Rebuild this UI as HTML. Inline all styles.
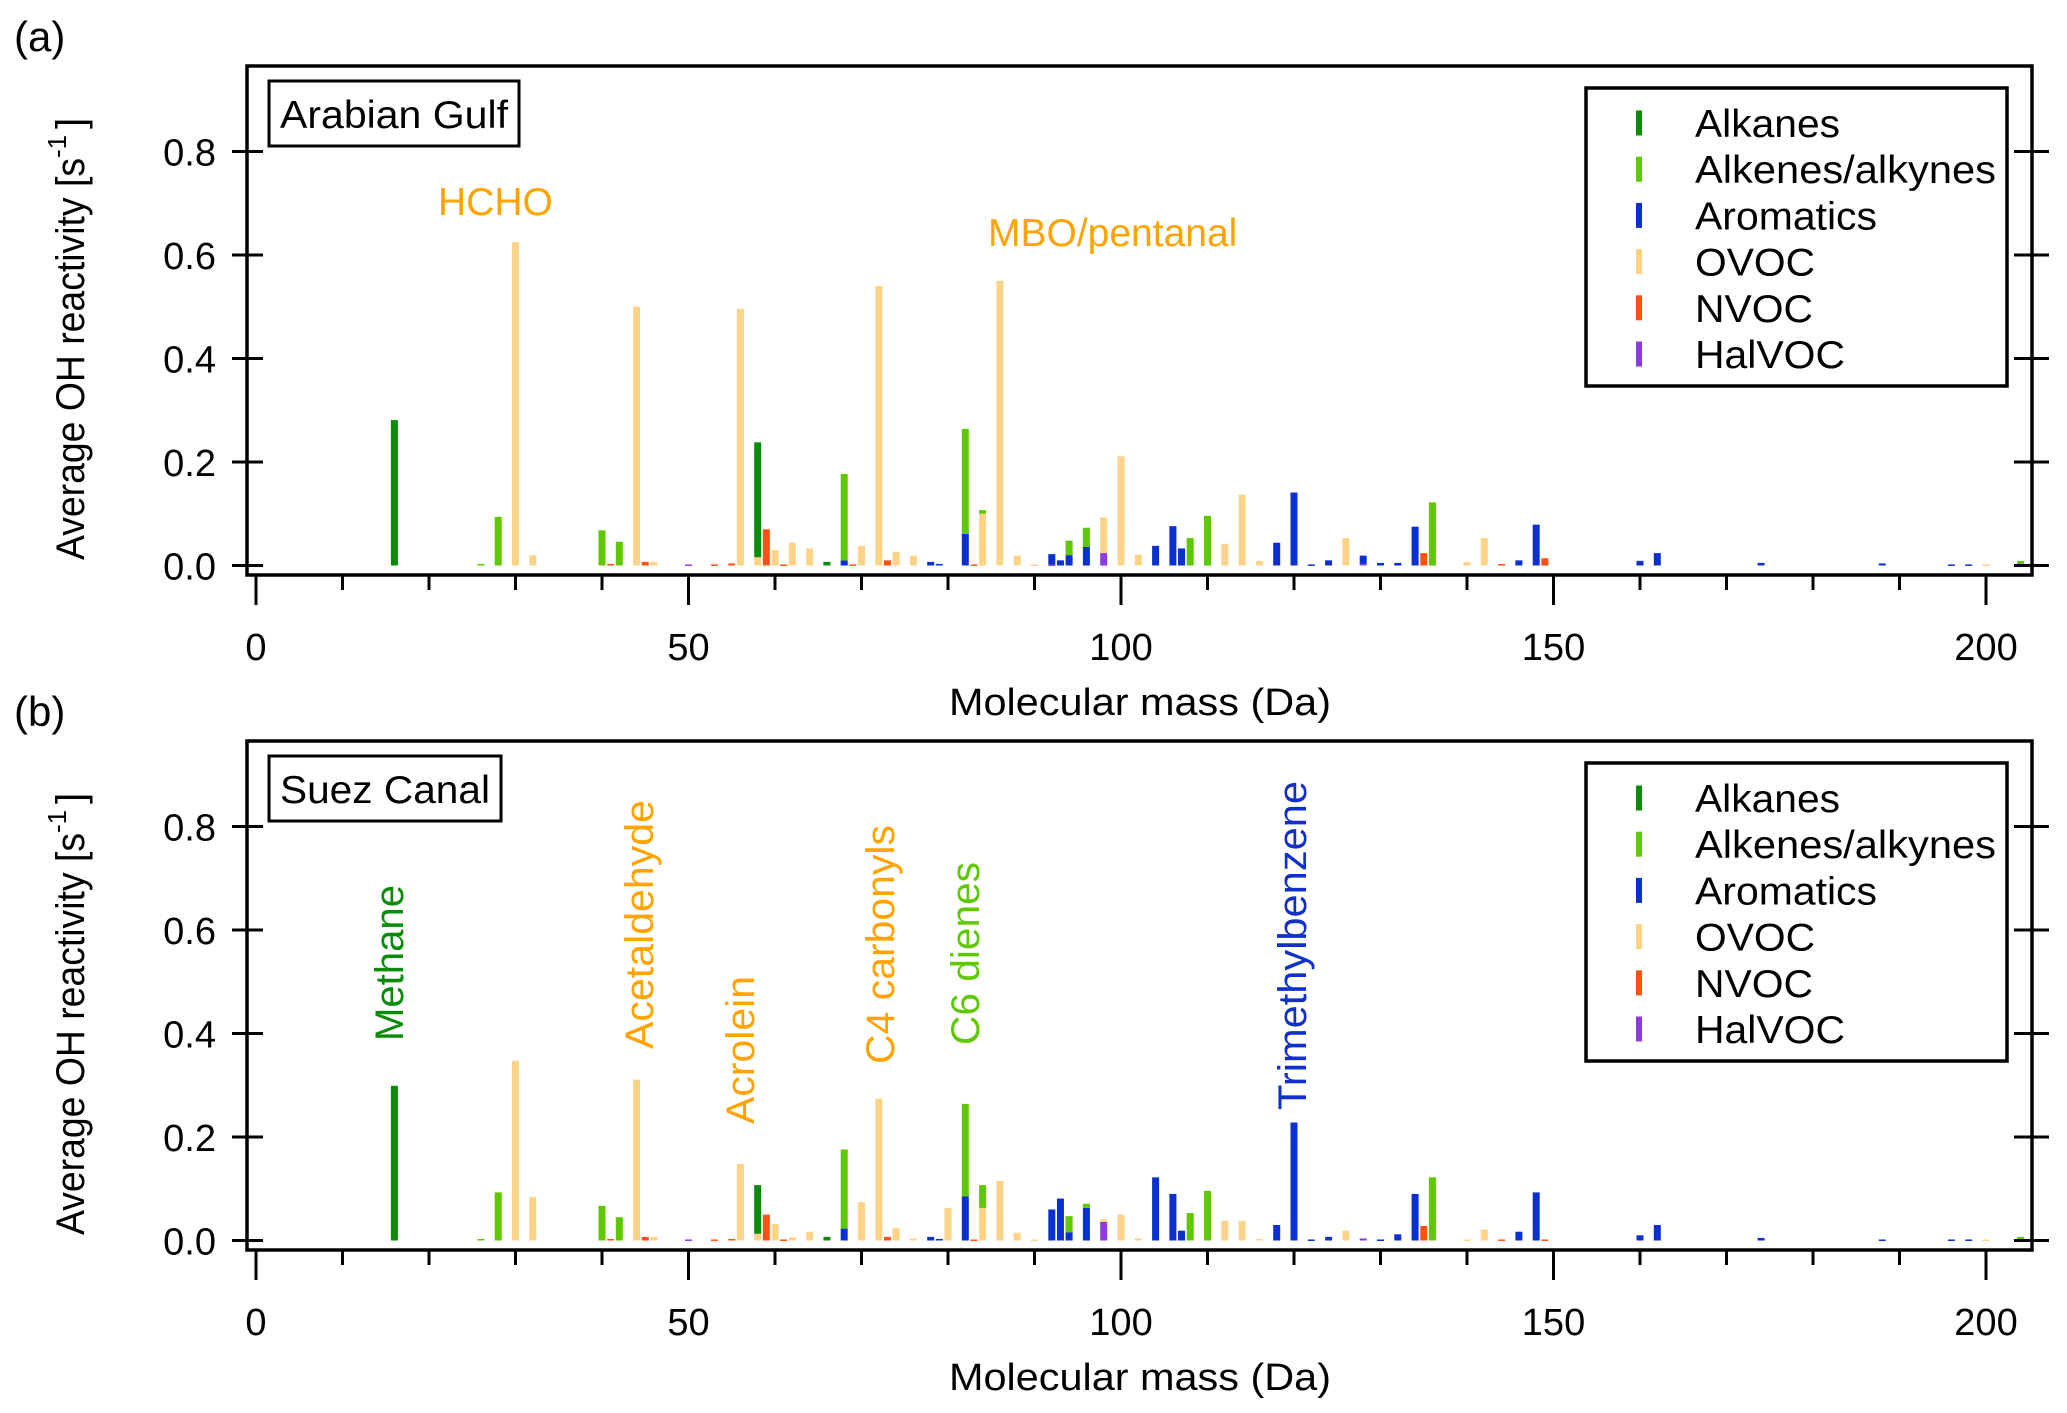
<!DOCTYPE html>
<html><head><meta charset="utf-8">
<style>
html,body{margin:0;padding:0;background:#fff;}
svg{display:block;font-family:"Liberation Sans",Arial,sans-serif;}
</style></head>
<body>
<svg id="chart" width="2067" height="1413" viewBox="0 0 2067 1413"></svg>
<script>
// ---- Data (panel a: Arabian Gulf) ----
const categories = ["HalVOC","Aromatics","OVOC","NVOC","Alkenes/alkynes","Alkanes"];
const legendOrder = ["Alkanes","Alkenes/alkynes","Aromatics","OVOC","NVOC","HalVOC"];
const xTickLabels = [0,50,100,150,200];
const yTickLabels = ["0.0","0.2","0.4","0.6","0.8"];
const yTickValues = [0,0.2,0.4,0.6,0.8];

const aAlkM = [16,58,66];
const aAlkV = [0.281,0.222,0.007];
const aAleM = [26,28,40,42,68,82,84,94,96,108,110,136,204];
const aAleV = [0.003,0.094,0.068,0.046,0.167,0.203,0.007,0.028,0.037,0.053,0.096,0.122,0.009];
const aAroM = [68,78,79,82,92,93,94,96,104,106,107,118,120,122,124,128,130,132,134,146,148,160,162,174,188,196,198];
const aAroV = [0.010,0.007,0.003,0.061,0.02,0.01,0.02,0.036,0.038,0.076,0.033,0.044,0.141,0.002,0.01,0.016,0.005,0.005,0.075,0.01,0.079,0.009,0.024,0.005,0.004,0.002,0.002];
const aOvoM = [30,32,44,46,56,58,60,62,64,70,72,74,76,84,86,88,90,98,100,102,112,114,116,126,140,142,200];
const aOvoV = [0.625,0.02,0.50,0.007,0.496,0.016,0.03,0.044,0.033,0.038,0.54,0.026,0.019,0.1,0.55,0.019,0.002,0.069,0.211,0.021,0.042,0.137,0.009,0.053,0.007,0.053,0.002];
const aNvoM = [41,45,53,55,59,61,69,73,83,135,144,149];
const aNvoV = [0.003,0.007,0.002,0.004,0.07,0.002,0.002,0.01,0.002,0.024,0.003,0.014];
const aHalM = [50,92,98,128];
const aHalV = [0.002,0.002,0.024,0.003];
const aThinM = [30,44,56,72];
const aThinV = [0.042,0.205,0.02,0.142];

// ---- Data (panel b: Suez Canal) ----
const bAlkM = [16,58,66];
const bAlkV = [0.299,0.094,0.007];
const bAleM = [26,28,40,42,68,82,84,94,96,108,110,136,204];
const bAleV = [0.003,0.093,0.067,0.045,0.153,0.179,0.044,0.031,0.008,0.053,0.096,0.122,0.007];
const bAroM = [68,78,79,82,92,93,94,96,104,106,107,118,120,122,124,130,132,134,146,148,160,162,174,188,196,198];
const bAroV = [0.023,0.007,0.003,0.085,0.06,0.081,0.016,0.063,0.122,0.09,0.019,0.03,0.228,0.002,0.007,0.002,0.012,0.09,0.017,0.093,0.01,0.03,0.005,0.002,0.002,0.002];
const bOvoM = [30,32,44,46,56,58,60,62,64,70,72,74,76,80,84,86,88,90,98,100,102,112,114,116,126,140,142,200];
const bOvoV = [0.347,0.084,0.311,0.007,0.148,0.013,0.032,0.006,0.017,0.074,0.274,0.024,0.004,0.063,0.063,0.115,0.015,0.002,0.005,0.05,0.004,0.038,0.038,0.003,0.019,0.002,0.021,0.002];
const bNvoM = [41,45,53,55,59,61,73,83,135,144,149];
const bNvoV = [0.003,0.007,0.002,0.003,0.05,0.002,0.007,0.002,0.028,0.002,0.002];
const bHalM = [50,98,128];
const bHalV = [0.002,0.036,0.004];
const bThinM = [44,56,72,86];
const bThinV = [0.056,0.022,0.052,0.02];

const colors = {"Alkanes":"#0a8c0a","Alkenes/alkynes":"#5ec800","Aromatics":"#0a30d0","OVOC":"#ffd386","NVOC":"#ff5212","HalVOC":"#8a3ce0"};
const legendWidths = {"Alkanes":145,"Alkenes/alkynes":301,"Aromatics":182,"OVOC":120,"NVOC":118,"HalVOC":150};

const NS = "http://www.w3.org/2000/svg";
const svg = document.getElementById("chart");
function mk(tag, attrs, parent){
  const e = document.createElementNS(NS, tag);
  for (const k in attrs) e.setAttribute(k, attrs[k]);
  (parent||svg).appendChild(e);
  return e;
}
const X0 = 256, PXDA = 8.65;
function xScale(m){ return X0 + m*PXDA; }

function drawPanel(off, label, boxName, boxW, series, thinM, thinV, annotations){
  const g = mk("g", {});
  
  
  const Y0 = 565.5 + off, PXU = 517.5;
  const yScale = v => Y0 - v*PXU;

  const pl = mk("text", {x:14, y:51+off, "font-size":42, fill:"#000"}, g);
  pl.textContent = "(" + label + ")";
  
  

  const cum = {};
  const barsG = mk("g", {}, g);
  
  
  thinM.forEach((m,i)=>{
    const r = mk("rect", {x:xScale(m)-1.2, y:yScale(thinV[i]), width:2.4, height:thinV[i]*PXU, fill:"#52b820"}, barsG);
    
    
  });
  categories.forEach(cat=>{
    const s = series[cat];
    s.m.forEach((m,i)=>{
      const base = cum[m]||0;
      const v = s.v[i];
      const r = mk("rect", {x:xScale(m)-3.5, y:yScale(base+v), width:7, height:Math.max(v*PXU,1.5), fill:colors[cat]}, barsG);
      
      
      cum[m] = base+v;
    });
  });

  const fr = mk("rect", {x:247, y:66+off, width:1785, height:509, fill:"none", stroke:"#000", "stroke-width":3.5}, g);
  
  

  yTickValues.forEach((v,i)=>{
    const y = yScale(v);
    mk("line", {x1:232, x2:263, y1:y, y2:y, stroke:"#000", "stroke-width":3}, g);
    mk("line", {x1:2014, x2:2049, y1:y, y2:y, stroke:"#000", "stroke-width":3}, g);
    const t = mk("text", {x:216, y:y+14, "font-size":38, "text-anchor":"end", fill:"#000"}, g);
    t.textContent = yTickLabels[i];
    
    
  });
  for (let m=0; m<=200; m+=10){
    const major = m%50===0;
    mk("line", {x1:xScale(m), x2:xScale(m), y1:575+off, y2:(major?605:590)+off, stroke:"#000", "stroke-width":3}, g);
  }
  xTickLabels.forEach(m=>{
    const t = mk("text", {x:xScale(m), y:660+off, "font-size":38, "text-anchor":"middle", fill:"#000"}, g);
    t.textContent = m;
    
    
  });
  const xt = mk("text", {x:1140, y:715+off, "font-size":38, "text-anchor":"middle", fill:"#000", textLength:382, lengthAdjust:"spacingAndGlyphs"}, g);
  xt.textContent = "Molecular mass (Da)";
  
  

  const yt = mk("text", {transform:"translate(84," + (560+off) + ") rotate(-90)", "font-size":40, fill:"#000"}, g);
  
  
  const t1 = mk("tspan", {textLength:402, lengthAdjust:"spacingAndGlyphs"}, yt); t1.textContent = "Average OH reactivity [s";
  const t2 = mk("tspan", {dy:-18, "font-size":26}, yt); t2.textContent = "-1";
  const t3 = mk("tspan", {dy:18, dx:6}, yt); t3.textContent = "]";

  const rb = mk("rect", {x:269, y:81+off, width:boxW, height:65, fill:"#fff", stroke:"#000", "stroke-width":3}, g);
  
  
  const rt = mk("text", {x:280, y:128+off, "font-size":39, fill:"#000", textLength:boxW-22, lengthAdjust:"spacingAndGlyphs"}, g);
  rt.textContent = boxName;
  
  

  const lg = mk("g", {}, g);
  
  
  mk("rect", {x:1586, y:88+off, width:421, height:298, fill:"#fff", stroke:"#000", "stroke-width":3.5}, lg);
  legendOrder.forEach((cat,i)=>{
    const cy = 123 + i*46.2 + off;
    const e = mk("g", {}, lg);
    
    
    mk("rect", {x:1636, y:cy-12.5, width:6, height:25, fill:colors[cat]}, e);
    const t = mk("text", {x:1695, y:cy+14, "font-size":39, fill:"#000", textLength:legendWidths[cat], lengthAdjust:"spacingAndGlyphs"}, e);
    t.textContent = cat;
  });

  annotations.forEach(a=>{
    let t;
    if (a.rot){
      t = mk("text", {transform:"translate(" + (a.x+14) + "," + (a.y+off) + ") rotate(-90)", "font-size":40, fill:a.c, textLength:a.len, lengthAdjust:"spacingAndGlyphs"}, g);
    } else {
      t = mk("text", {x:a.x, y:a.y+off, "font-size":39, fill:a.c}, g);
    }
    t.textContent = a.t;
    
    
  });
}

drawPanel(0, "a", "Arabian Gulf", 250, {
  "Alkanes":{m:aAlkM,v:aAlkV}, "Alkenes/alkynes":{m:aAleM,v:aAleV}, "Aromatics":{m:aAroM,v:aAroV},
  "OVOC":{m:aOvoM,v:aOvoV}, "NVOC":{m:aNvoM,v:aNvoV}, "HalVOC":{m:aHalM,v:aHalV}
}, aThinM, aThinV, [
  {t:"HCHO", x:438, y:215, c:"#ffa300"},
  {t:"MBO/pentanal", x:988, y:246, c:"#ffa300"}
]);

drawPanel(675, "b", "Suez Canal", 232, {
  "Alkanes":{m:bAlkM,v:bAlkV}, "Alkenes/alkynes":{m:bAleM,v:bAleV}, "Aromatics":{m:bAroM,v:bAroV},
  "OVOC":{m:bOvoM,v:bOvoV}, "NVOC":{m:bNvoM,v:bNvoV}, "HalVOC":{m:bHalM,v:bHalV}
}, bThinM, bThinV, [
  {t:"Methane", x:389, y:366, c:"#0a8c0a", rot:true, len:156},
  {t:"Acetaldehyde", x:639, y:374, c:"#ffa300", rot:true, len:249},
  {t:"Acrolein", x:740, y:449, c:"#ffa300", rot:true, len:148},
  {t:"C4 carbonyls", x:880, y:389, c:"#ffa300", rot:true, len:239},
  {t:"C6 dienes", x:965, y:370, c:"#5ec800", rot:true, len:183},
  {t:"Trimethylbenzene", x:1292, y:435, c:"#1030c8", rot:true, len:329}
]);
</script>
</body></html>
